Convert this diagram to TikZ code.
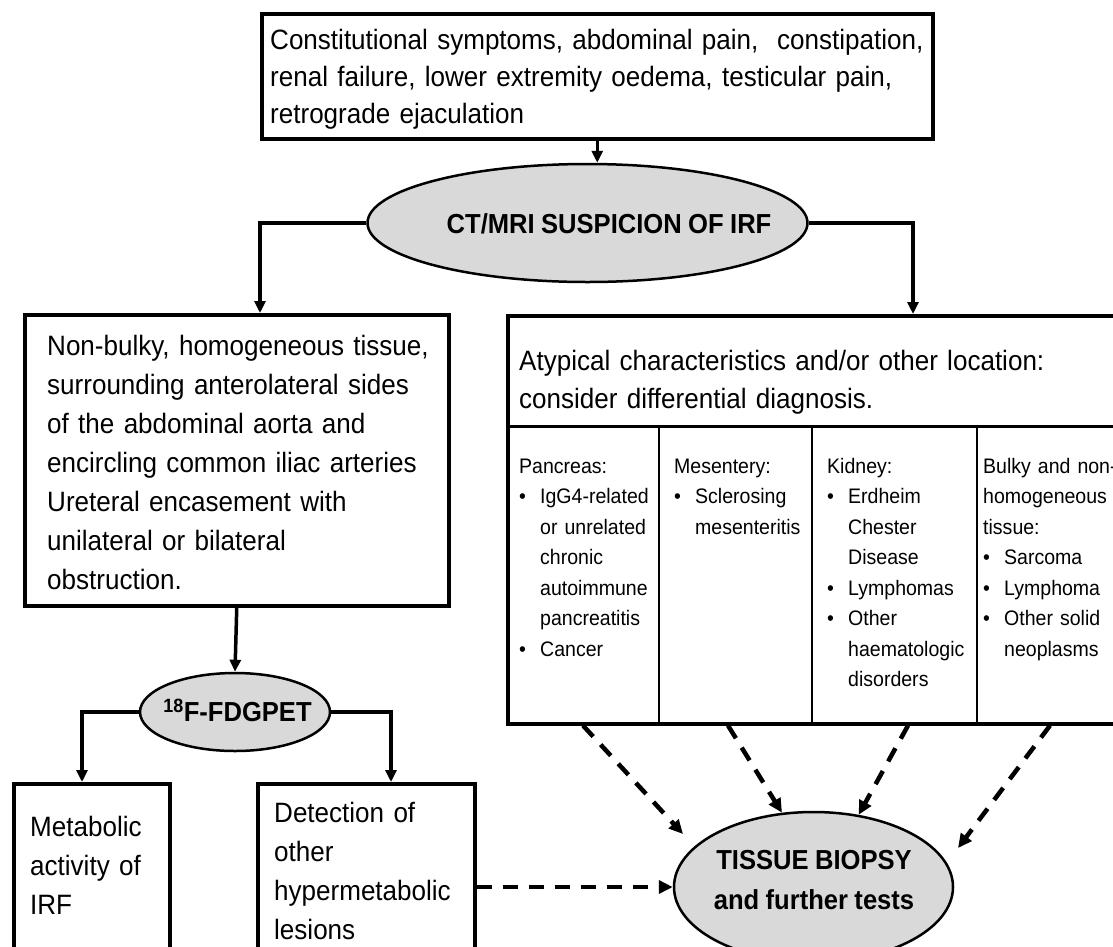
\documentclass[tikz,border=0pt]{standalone}
\usepackage{fontspec}
\setmainfont{Liberation Sans}[FakeStretch=0.93, WordSpace=0.9]
\usetikzlibrary{shapes.geometric,arrows.meta,calc}
\definecolor{ellgray}{gray}{0.85}
\newcommand{\mybul}{\makebox[21pt][l]{\textbullet}}
\newcommand{\myind}{\hspace*{21pt}}
\tikzset{
  box/.style={draw, line width=3.5pt, inner sep=0pt, anchor=north west},
  txt/.style={inner sep=0pt, anchor=north west, align=left, text width=1000pt, text height=0pt, font=\fontsize{28}{39}\selectfont},
  small/.style={txt, font=\fontsize{21}{30.5}\selectfont},
  oval/.style={ellipse, draw, line width=2.5pt, fill=ellgray, inner sep=0pt},
  lbl/.style={font=\bfseries\fontsize{27.5}{40}\selectfont, inner sep=0pt, align=center},
  arr/.style={line width=3.5pt, -{Triangle[length=12pt,width=11pt]}},
  darr/.style={line width=4.5pt, dash pattern=on 15pt off 11pt, -{Triangle[length=14pt,width=13pt]}},
  divline/.style={line width=2.5pt}
}
\begin{document}
\begin{tikzpicture}[x=1pt,y=-1pt]
\useasboundingbox (0,0) rectangle (1113,946);
\clip (0,0) rectangle (1113,946);
\fill[white] (0,0) rectangle (1113,946);

% top box
\node[box, minimum width=671pt, minimum height=125pt] (top) at (260,12) {};
\node[txt, font=\fontsize{28}{37}\selectfont] (toptxt) at (270,49) {Constitutional symptoms, abdominal pain,~ constipation,\\renal failure, lower extremity oedema, testicular pain,\\retrograde ejaculation};

% CT ellipse
\node[oval, minimum width=440pt, minimum height=118pt] (ct) at (587.5,223) {};
\node[lbl] (cttxt) at (609,224) {CT/MRI SUSPICION OF IRF};

% left box
\node[box, minimum width=424pt, minimum height=291pt] (left) at (23,313) {};
\node[txt] (lefttxt) at (47,355) {Non-bulky, homogeneous tissue,\\surrounding anterolateral sides\\of the abdominal aorta and\\encircling common iliac arteries\\Ureteral encasement with\\unilateral or bilateral\\obstruction.};

% right box
\node[box, minimum width=624pt, minimum height=408pt] (atyp) at (506,314) {};
\coordinate (hdiv) at (0,426);
\coordinate (v1) at (659,0);
\coordinate (v2) at (812,0);
\coordinate (v3) at (977,0);
\draw[line width=3pt] (atyp.west |- hdiv) -- (atyp.east |- hdiv);
\draw[divline] (v1 |- hdiv) -- (v1 |- atyp.south);
\draw[divline] (v2 |- hdiv) -- (v2 |- atyp.south);
\draw[divline] (v3 |- hdiv) -- (v3 |- atyp.south);
\node[txt, font=\fontsize{28}{38}\selectfont] (atyptxt) at (519,370) {Atypical characteristics and/or other location:\\consider differential diagnosis.};
\node[small] (c1) at (519,473) {Pancreas:\\\mybul IgG4-related\\\myind or unrelated\\\myind chronic\\\myind autoimmune\\\myind pancreatitis\\\mybul Cancer};
\node[small] (c2) at (674,473) {Mesentery:\\\mybul Sclerosing\\\myind mesenteritis};
\node[small] (c3) at (827,473) {Kidney:\\\mybul Erdheim\\\myind Chester\\\myind Disease\\\mybul Lymphomas\\\mybul Other\\\myind haematologic\\\myind disorders};
\node[small] (c4) at (983,473) {Bulky and non-\\homogeneous\\tissue:\\\mybul Sarcoma\\\mybul Lymphoma\\\mybul Other solid\\\myind neoplasms};

% FDG PET ellipse
\node[oval, minimum width=190pt, minimum height=78pt] (fdg) at (235,712) {};
\node[lbl] (fdgtxt) at (237.5,710) {\textsuperscript{18}F-FDGPET};

% bottom boxes
\node[box, minimum width=156pt, minimum height=180pt] (metab) at (12,782) {};
\node[txt] (metabtxt) at (30,836) {Metabolic\\activity of\\IRF};
\node[box, minimum width=217pt, minimum height=180pt] (detect) at (256,782) {};
\node[txt] (detecttxt) at (274,822) {Detection of\\other\\hypermetabolic\\lesions};

% tissue biopsy ellipse
\node[oval, minimum width=279pt, minimum height=150pt] (tissue) at (813.5,887) {};
\node[lbl] (tissuetxt) at (814,880) {TISSUE BIOPSY\\and further tests};

% solid connectors
\coordinate (cl) at (260,0);
\coordinate (cr) at (913,0);
\coordinate (fl) at (82,0);
\coordinate (fr) at (391,0);
\draw[arr] (top.south) -- (top.south |- ct.north);
\draw[arr] (ct.west) -| (cl |- left.north);
\draw[arr] (ct.east) -| (cr |- atyp.north);
\draw[arr] (left.south) -- (fdg.north);
\draw[arr] (fdg.west) -| (fl |- metab.north);
\draw[arr] (fdg.east) -| (fr |- detect.north);

% dashed connectors
\coordinate (d1) at (583,0);
\coordinate (d2) at (728,0);
\coordinate (d3) at (908,0);
\coordinate (d4) at (1050,0);
\coordinate (e1) at ($(tissue.center)+(-130.5,-53)$);
\coordinate (e4) at ($(tissue.center)+(144.5,-39)$);
\draw[darr] (detect.east |- tissue.west) -- (tissue.west);
\draw[darr] (d1 |- atyp.south) -- (e1);
\draw[darr] (d2 |- atyp.south) -- (tissue.113.5);
\draw[darr] (d3 |- atyp.south) -- (tissue.58);
\draw[darr] (d4 |- atyp.south) -- (e4);
\end{tikzpicture}
\end{document}
